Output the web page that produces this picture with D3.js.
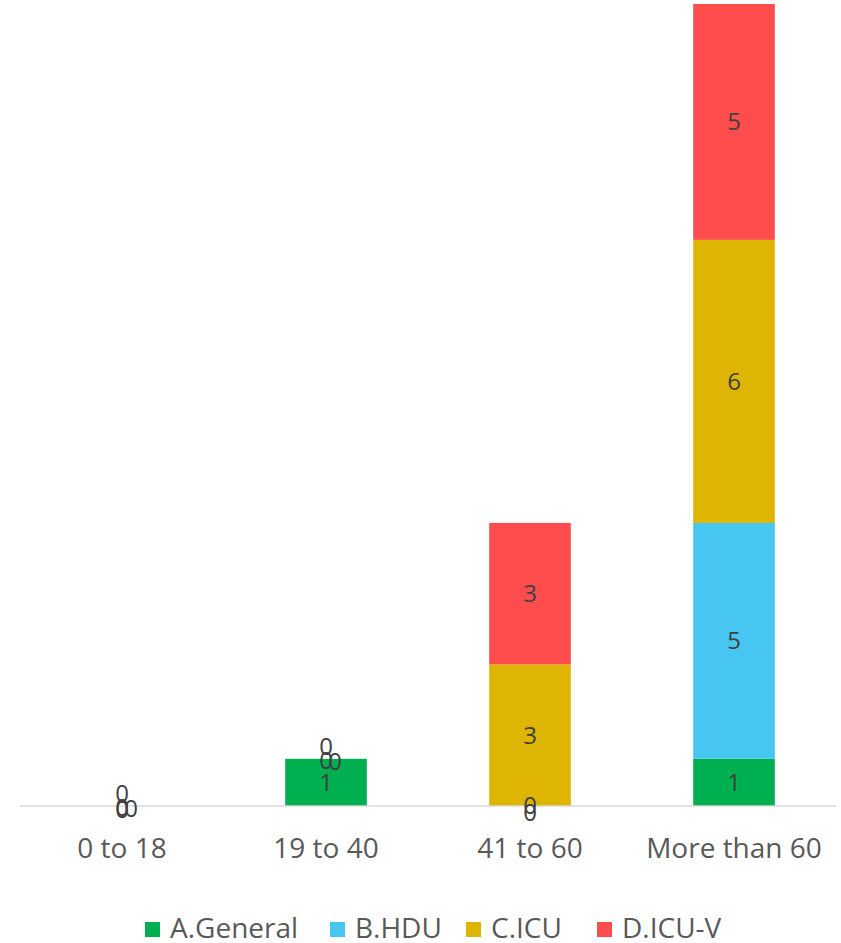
<!DOCTYPE html>
<html>
<head>
<meta charset="utf-8">
<script src="https://cdn.jsdelivr.net/npm/d3@7"></script>
<style>
  body { margin: 0; background: #fff; }
  svg { display: block; font-family: "Open Sans", "Noto Sans", sans-serif; }
</style>
</head>
<body>
<div id="chart"></div>
<script>
// age groups on the x axis
const categories = ["0 to 18", "19 to 40", "41 to 60", "More than 60"]
const seriesNames = ["A.General", "B.HDU", "C.ICU", "D.ICU-V"]
const seriesColors = ["#00AF50", "#48C6F2", "#DDB502", "#FF4C4C"]

// one array per series, same order as categories
const general = [0, 1, 0, 1]
const hdu = [0, 0, 0, 5]
const icu = [0, 0, 3, 6]
const icuV = [0, 0, 3, 5]

const width = 841
const height = 943
const baseline = 806

const rows = categories.map((c, i) => ({
  cat: c,
  "A.General": general[i],
  "B.HDU": hdu[i],
  "C.ICU": icu[i],
  "D.ICU-V": icuV[i]
}))

const stack = d3.stack().keys(seriesNames)(rows)

const x = d3.scaleBand()
  .domain(categories)
  .range([20, 836])
  .paddingInner(0.6)
  .paddingOuter(0.3)

const y = d3.scaleLinear()
  .domain([0, 17])
  .range([baseline, 4])

const color = d3.scaleOrdinal(seriesNames, seriesColors)

const svg = d3.select("#chart")
  .append("svg")
  .attr("width", width)
  .attr("height", height)

// bars
svg.append("g")
  .selectAll("g")
  .data(stack)
  .join("g")
  .attr("fill", d => color(d.key))
  .selectAll("rect")
  .data(d => d)
  .join("rect")
  .attr("x", d => x(d.data.cat))
  .attr("y", d => y(d[1]))
  .attr("width", x.bandwidth())
  .attr("height", d => y(d[0]) - y(d[1]))

// x axis line + labels
const xAxis = svg.append("g")
  .attr("transform", `translate(0,${baseline})`)
  .call(d3.axisBottom(x).tickSize(0).tickPadding(32))

xAxis.select(".domain")
  .attr("stroke", "#d9d9d9")
  .attr("stroke-width", 1.5)
  .attr("d", "M20,0H836")

xAxis.selectAll("text")
  .attr("font-size", 28)
  .attr("fill", "#595959")
  .attr("font-family", "'Open Sans', 'Noto Sans', sans-serif")

// zero-height segments pile up on each other, excel style
function zeroNudge(k, n) {
  if (n === 2) return [[0, 0], [0, 7]][k]
  return [[0, -12], [0, 2], [9, 3], [0, 4]][k]
}

const labels = []
categories.forEach((c, i) => {
  let k = 0
  const zeros = stack.filter(s => s[i][1] - s[i][0] === 0).length
  stack.forEach(s => {
    const d = s[i]
    const v = d[1] - d[0]
    let nudge = [0, 0]
    if (v === 0) nudge = zeroNudge(k++, zeros)
    labels.push({ cat: c, v, mid: (d[0] + d[1]) / 2, dx: nudge[0], dy: nudge[1] })
  })
})

svg.append("g")
  .selectAll("text")
  .data(labels)
  .join("text")
  .attr("x", d => x(d.cat) + x.bandwidth() / 2 + d.dx)
  .attr("y", d => y(d.mid) + d.dy)
  .attr("dy", "0.35em")
  .attr("text-anchor", "middle")
  .attr("font-size", 24)
  .attr("fill", "#404040")
  .text(d => d.v)

// legend
const legendX = [145, 330, 466, 597]
const legend = svg.append("g")
  .selectAll("g")
  .data(seriesNames)
  .join("g")
  .attr("transform", (d, i) => `translate(${legendX[i]},922)`)

legend.append("rect")
  .attr("width", 15)
  .attr("height", 15)
  .attr("fill", d => color(d))

legend.append("text")
  .attr("x", 25)
  .attr("y", 6)
  .attr("dy", "0.35em")
  .attr("font-size", 28)
  .attr("fill", "#595959")
  .text(d => d)
</script>
</body>
</html>
